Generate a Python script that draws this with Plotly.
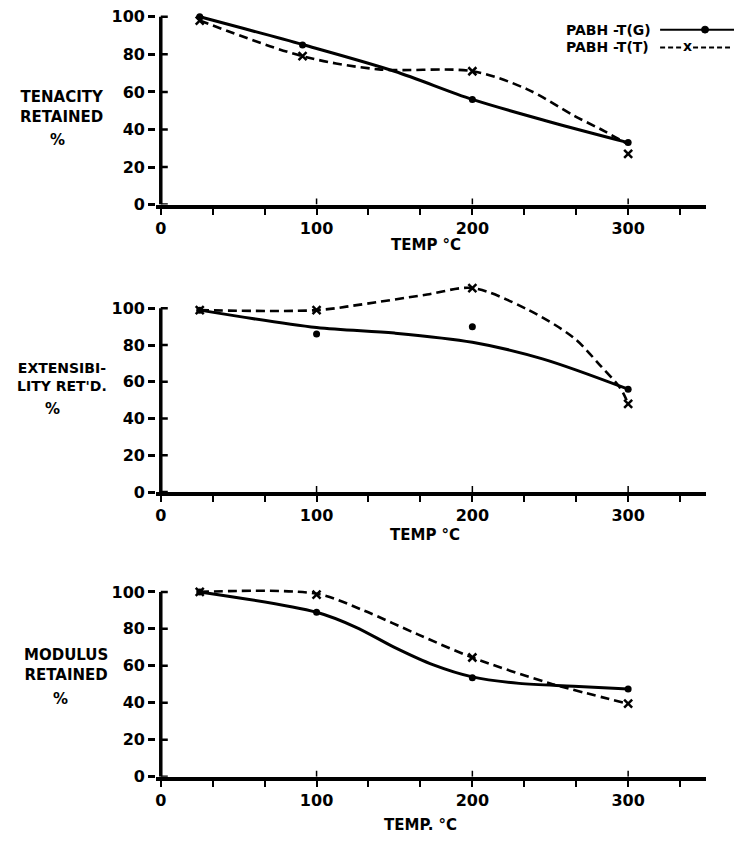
import plotly.graph_objects as go

W, H = 734, 844

# Axis ticks
temp_ticks = [0, 100 / 3, 200 / 3, 100, 400 / 3, 500 / 3, 200, 700 / 3, 800 / 3, 300, 1000 / 3]
temp_labels = ["0", "", "", "100", "", "", "200", "", "", "300", ""]
temp_major = [100, 200, 300]
pct_ticks = [0, 20, 40, 60, 80, 100]
pct_labels = ["0", "20", "40", "60", "80", "100"]

# Tenacity retained (%)
ten_g_temp = [25, 91, 200, 300]
ten_g_val = [100, 85, 56, 33]
ten_g_curve_temp = [25, 92, 150, 200, 250, 300]
ten_g_curve_val = [100, 85, 71, 56, 44, 33]
ten_t_temp = [25, 91, 200, 300]
ten_t_val = [98, 79, 71, 27]
ten_t_curve_temp = [25, 91, 140, 200, 235, 266, 285, 300]
ten_t_curve_val = [98, 79, 72, 71, 61.5, 47, 39, 32]

# Extensibility retained (%)
ext_g_temp = [25, 100, 200, 300]
ext_g_val = [99, 86, 90, 56]
ext_g_curve_temp = [25, 100, 150, 200, 245, 300]
ext_g_curve_val = [99, 89.5, 86.5, 81.5, 72.5, 56]
ext_t_temp = [25, 100, 200, 300]
ext_t_val = [99, 99, 111, 48]
ext_t_curve_temp = [25, 100, 128, 171, 200, 235, 265, 282, 295, 299]
ext_t_curve_val = [99, 99, 102, 107.5, 111, 99.5, 84, 69, 56.5, 50]

# Modulus retained (%)
mod_g_temp = [25, 100, 200, 300]
mod_g_val = [100, 89, 53.5, 47.5]
mod_g_curve_temp = [25, 100, 125, 150, 175, 200, 230, 265, 300]
mod_g_curve_val = [100, 89, 81, 70, 60.5, 54, 50.5, 49, 47.5]
mod_t_temp = [25, 100, 200, 300]
mod_t_val = [100, 98.5, 64.5, 39.5]
mod_t_curve_temp = [25, 100, 130, 165, 200, 250, 300]
mod_t_curve_val = [100, 99, 90, 77, 64.5, 50.5, 39.5]

FONT = "DejaVu Sans"
INK = "#000000"


def fx(px):
    return px / W


def fy(py):
    return 1 - py / H


# panel layout in pixels: y pixel of 0 %, pixels per %, top of range
X_LEFT_PX, X_UNIT = 160, 1.56
X_RANGE = [-3, 350]
panels = [
    dict(zero=207, unit=1.9, top=105,
         g=(ten_g_temp, ten_g_val, ten_g_curve_temp, ten_g_curve_val),
         t=(ten_t_temp, ten_t_val, ten_t_curve_temp, ten_t_curve_val),
         title=[("TENACITY<br>RETAINED", 61, 108, 15), ("%", 57, 142, 15)],
         xtitle=("TEMP °C", 426, 248)),
    dict(zero=498, unit=1.86, top=115,
         g=(ext_g_temp, ext_g_val, ext_g_curve_temp, ext_g_curve_val),
         t=(ext_t_temp, ext_t_val, ext_t_curve_temp, ext_t_curve_val),
         title=[("EXTENSIBI-<br>LITY RET'D.", 61, 382, 14), ("%", 52, 414, 15)],
         xtitle=("TEMP °C", 425, 541)),
    dict(zero=786, unit=1.87, top=105,
         g=(mod_g_temp, mod_g_val, mod_g_curve_temp, mod_g_curve_val),
         t=(mod_t_temp, mod_t_val, mod_t_curve_temp, mod_t_curve_val),
         title=[("MODULUS<br>RETAINED", 65, 673, 15), ("%", 60, 707, 15)],
         xtitle=("TEMP. °C", 420, 835)),
]

fig = go.Figure()
shapes = []
annotations = []
layout_axes = {}

x_left_px = X_LEFT_PX + X_RANGE[0] * X_UNIT
x_right_px = X_LEFT_PX + X_RANGE[1] * X_UNIT

for i, p in enumerate(panels, start=1):
    xa = "x" if i == 1 else f"x{i}"
    ya = "y" if i == 1 else f"y{i}"
    top_px = p["zero"] - p["top"] * p["unit"]

    gt, gv, gct, gcv = p["g"]
    tt, tv, tct, tcv = p["t"]

    # smooth hand-faired curves
    fig.add_trace(go.Scatter(x=gct, y=gcv, mode="lines", xaxis=xa, yaxis=ya,
                             line=dict(color=INK, width=3, shape="spline", smoothing=0.9),
                             showlegend=False, hoverinfo="skip"))
    fig.add_trace(go.Scatter(x=tct, y=tcv, mode="lines", xaxis=xa, yaxis=ya,
                             line=dict(color=INK, width=2.6, dash="9px,5px",
                                       shape="spline", smoothing=0.9),
                             showlegend=False, hoverinfo="skip"))
    # measured points
    fig.add_trace(go.Scatter(x=gt, y=gv, mode="markers", xaxis=xa, yaxis=ya,
                             marker=dict(symbol="circle", size=7, color=INK),
                             cliponaxis=False, showlegend=False))
    fig.add_trace(go.Scatter(x=tt, y=tv, mode="markers", xaxis=xa, yaxis=ya,
                             marker=dict(symbol="x-thin", size=8,
                                         line=dict(color=INK, width=2.5)),
                             cliponaxis=False, showlegend=False))

    key_x = "xaxis" if i == 1 else f"xaxis{i}"
    key_y = "yaxis" if i == 1 else f"yaxis{i}"
    layout_axes[key_x] = dict(
        domain=[fx(x_left_px), fx(x_right_px)], range=X_RANGE, anchor=ya,
        showgrid=False, zeroline=False, showline=True, linecolor=INK, linewidth=4,
        tickmode="array", tickvals=temp_ticks, ticktext=temp_labels,
        ticks="outside", ticklen=6, tickwidth=2, tickcolor=INK,
        tickfont=dict(family=FONT, size=16, color=INK, weight="bold"),
        fixedrange=True,
    )
    layout_axes[key_y] = dict(
        domain=[fy(p["zero"]), fy(top_px)], range=[0, p["top"]], anchor=xa,
        showgrid=False, zeroline=False, showline=False,
        tickmode="array", tickvals=pct_ticks, ticktext=pct_labels,
        ticks="outside", ticklen=7, tickwidth=2.5, tickcolor=INK,
        tickfont=dict(family=FONT, size=16, color=INK, weight="bold"),
        fixedrange=True,
    )

    # vertical axis line, 0 to 100 %
    shapes.append(dict(type="line", xref=xa, yref=ya, x0=0, x1=0, y0=0, y1=100,
                       line=dict(color=INK, width=3.5)))
    # inner half of the cross ticks on the % axis
    for v in pct_ticks:
        shapes.append(dict(type="line", xref=xa, yref=ya, xsizemode="pixel",
                           xanchor=0, x0=0, x1=7, y0=v, y1=v,
                           line=dict(color=INK, width=2.5)))
    # upper half of major temperature ticks
    for v in temp_major:
        shapes.append(dict(type="line", xref=xa, yref=ya, ysizemode="pixel",
                           yanchor=0, y0=0, y1=6, x0=v, x1=v,
                           line=dict(color=INK, width=1.5)))

    for text, cx, cy, size in p["title"]:
        annotations.append(dict(text=text, xref="paper", yref="paper", x=fx(cx), y=fy(cy),
                                xanchor="center", yanchor="middle", showarrow=False,
                                align="center",
                                font=dict(family=FONT, size=size, color=INK, weight="bold")))
    text, cx, cy = p["xtitle"]
    annotations.append(dict(text=text, xref="paper", yref="paper", x=fx(cx), y=fy(cy),
                            xanchor="center", yanchor="middle", showarrow=False,
                            font=dict(family=FONT, size=15, color=INK, weight="bold")))

# key
key_font = dict(family=FONT, size=14, color=INK, weight="bold")
annotations.append(dict(text="PABH -T(G)", xref="paper", yref="paper", x=fx(564), y=fy(30),
                        xanchor="left", yanchor="middle", showarrow=False, font=key_font))
annotations.append(dict(text="PABH -T(T)", xref="paper", yref="paper", x=fx(564), y=fy(48),
                        xanchor="left", yanchor="middle", showarrow=False, font=key_font))
shapes.append(dict(type="line", xref="paper", yref="paper", x0=fx(660), x1=fx(734),
                   y0=fy(30), y1=fy(30), line=dict(color=INK, width=2)))
shapes.append(dict(type="circle", xref="paper", yref="paper", x0=fx(701.5), x1=fx(708.5),
                   y0=fy(26.5), y1=fy(33.5), fillcolor=INK, line=dict(color=INK, width=1)))
shapes.append(dict(type="line", xref="paper", yref="paper", x0=fx(660), x1=fx(682),
                   y0=fy(48), y1=fy(48), line=dict(color=INK, width=2, dash="5px,3px")))
shapes.append(dict(type="line", xref="paper", yref="paper", x0=fx(693), x1=fx(730),
                   y0=fy(48), y1=fy(48), line=dict(color=INK, width=2, dash="5px,3px")))
annotations.append(dict(text="x", xref="paper", yref="paper", x=fx(687.5), y=fy(47),
                        xanchor="center", yanchor="middle", showarrow=False, font=key_font))

fig.update_layout(
    width=W, height=H,
    margin=dict(l=0, r=0, t=0, b=0),
    paper_bgcolor="white", plot_bgcolor="white",
    shapes=shapes, annotations=annotations,
    showlegend=False,
    **layout_axes,
)

fig.write_html("out.html")
